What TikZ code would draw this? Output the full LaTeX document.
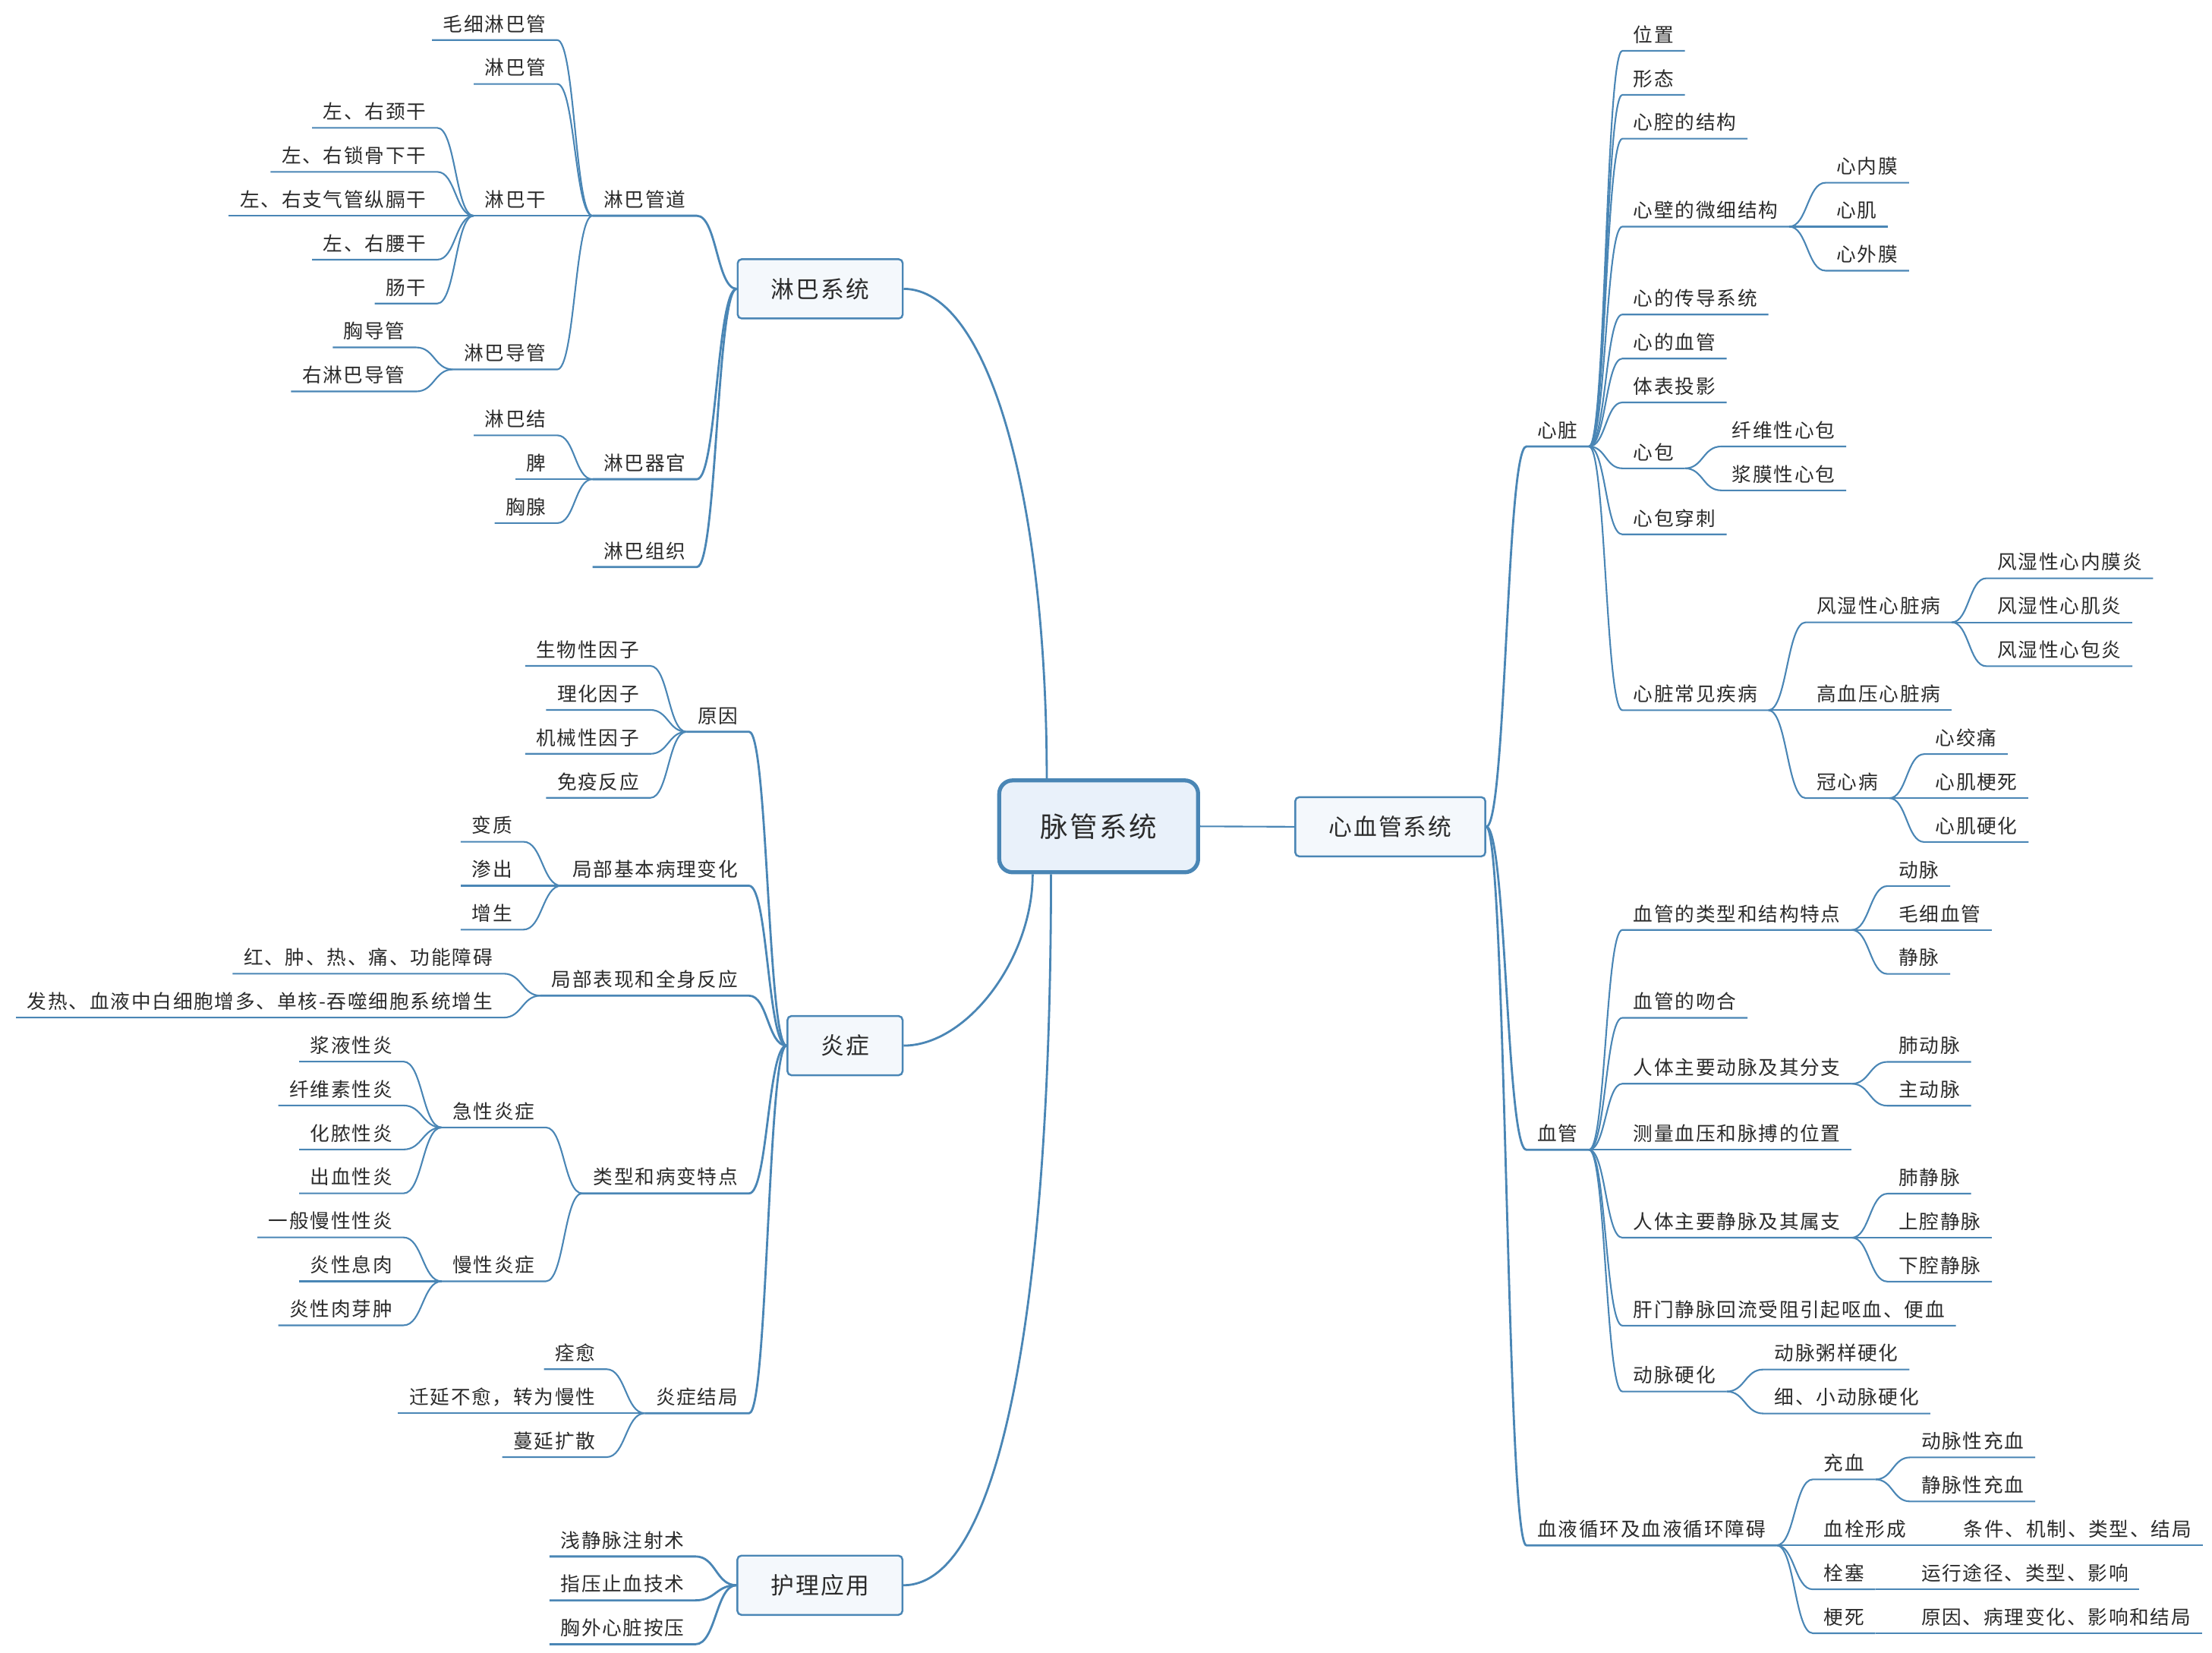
\documentclass[tikz,border=0pt]{standalone}
\usepackage{fontspec}
\setmainfont{Noto Sans CJK SC}[LetterSpace=7]
\usetikzlibrary{calc}

\definecolor{lineblue}{HTML}{4A86B5}
\definecolor{rootfill}{HTML}{E9F1FA}
\definecolor{boxfill}{HTML}{F4F8FC}
\definecolor{txt}{HTML}{2B2B2B}

\begin{document}
\begin{tikzpicture}[
			x=0.18584mm, y=-0.18584mm,
			central/.style={
				rectangle, rounded corners=5pt,
				draw=lineblue, line width=1.5pt, fill=rootfill, text=txt,
				font=\fontsize{10.4}{12}\selectfont,
				minimum width=2.62cm, minimum height=1.21cm
			},
			topic/.style={
				rectangle, rounded corners=1.5pt,
				draw=lineblue, line width=0.7pt, fill=boxfill, text=txt,
				font=\fontsize{8.75}{10}\selectfont,
				inner xsep=0.44cm, minimum height=0.78cm
			},
			leaf/.style={
				font=\fontsize{7.3}{8.5}\selectfont, text=txt,
				inner xsep=0.14cm, inner ysep=0.6mm,
				text height=1.9mm, text depth=0.5mm
			},
			rleaf/.style={leaf, anchor=south west},
			lleaf/.style={leaf, anchor=south east},
			link/.style={draw=lineblue, line width=0.6pt},
			trunk/.style={draw=lineblue, line width=0.8pt},
			xcurve/.style={to path={
				.. controls ($(\tikztostart)!0.5!(\tikztotarget|-\tikztostart)$)
				and ($(\tikztotarget)!0.5!(\tikztostart|-\tikztotarget)$) .. (\tikztotarget)}}
			]
			\useasboundingbox (0,0) rectangle (1568,1171);
			
			%% ── Centre ──────────────────────────────────────────────────────────
			\node[central] (mg) at (778.8, 585.6) {脉管系统};
			\coordinate (rtop) at (742, 552);
			\coordinate (rbot1) at (732, 619.5);
			\coordinate (rbot2) at (745, 619.5);
			
			\node[topic] (xxg) at (985.5, 585.9) {心血管系统};
			\node[topic] (lbxt) at (581.4, 204.7) {淋巴系统};
			\node[topic] (yz) at (599, 741.0) {炎症};
			\node[topic] (hlyy) at (581.2, 1123.4) {护理应用};
			
			\draw[link] (mg.east) -- (xxg.west);
			\draw[trunk] (lbxt.east) .. controls +(60,0) and +(0,-200) .. (rtop);
			\draw[trunk] (yz.east) .. controls +(45,0) and +(0,60) .. (rbot1);
			\draw[trunk] (hlyy.east) .. controls +(70,0) and +(0,300) .. (rbot2);
			
			%% ── 心血管系统 ──────────────────────────────────────────────────────
			\node[rleaf] (xz) at (1082, 316.4) {心脏};
			\node[rleaf] (xg) at (1082, 814.8) {血管};
			\node[rleaf] (xhxh) at (1082, 1095.1) {血液循环及血液循环障碍};
			\draw[trunk] (xxg.east) to[xcurve] (xz.south west) -- (xz.south east);
			\draw[trunk] (xxg.east) to[xcurve] (xg.south west) -- (xg.south east);
			\draw[trunk] (xxg.east) to[xcurve] (xhxh.south west) -- (xhxh.south east);
			
			%% ── 心脏 ────────────────────────────────────────────────────────────
			\node[rleaf] (wz) at (1150, 36.0) {位置};
			\node[rleaf] (xt) at (1150, 67.2) {形态};
			\node[rleaf] (xqjg) at (1150, 98.3) {心腔的结构};
			\node[rleaf] (xbwx) at (1150, 160.6) {心壁的微细结构};
			\node[rleaf] (cdxt) at (1150, 222.9) {心的传导系统};
			\node[rleaf] (xdxg) at (1150, 254.1) {心的血管};
			\node[rleaf] (btty) at (1150, 285.2) {体表投影};
			\node[rleaf] (xb) at (1150, 331.9) {心包};
			\node[rleaf] (xbcc) at (1150, 378.7) {心包穿刺};
			\node[rleaf] (cjjb) at (1150, 503.3) {心脏常见疾病};
			\draw[link] (xz.south east) to[xcurve] (wz.south west) -- (wz.south east);
			\draw[link] (xz.south east) to[xcurve] (xt.south west) -- (xt.south east);
			\draw[link] (xz.south east) to[xcurve] (xqjg.south west) -- (xqjg.south east);
			\draw[link] (xz.south east) to[xcurve] (xbwx.south west) -- (xbwx.south east);
			\draw[link] (xz.south east) to[xcurve] (cdxt.south west) -- (cdxt.south east);
			\draw[link] (xz.south east) to[xcurve] (xdxg.south west) -- (xdxg.south east);
			\draw[link] (xz.south east) to[xcurve] (btty.south west) -- (btty.south east);
			\draw[link] (xz.south east) to[xcurve] (xb.south west) -- (xb.south east);
			\draw[link] (xz.south east) to[xcurve] (xbcc.south west) -- (xbcc.south east);
			\draw[link] (xz.south east) to[xcurve] (cjjb.south west) -- (cjjb.south east);
			
			\node[rleaf] (xnm) at (1294, 129.5) {心内膜};
			\node[rleaf] (xj) at (1294, 160.6) {心肌};
			\node[rleaf] (xwm) at (1294, 191.8) {心外膜};
			\draw[link] (xbwx.south east) to[xcurve] (xnm.south west) -- (xnm.south east);
			\draw[link] (xbwx.south east) to[xcurve] (xj.south west) -- (xj.south east);
			\draw[link] (xbwx.south east) to[xcurve] (xwm.south west) -- (xwm.south east);
			
			\node[rleaf] (xwxb) at (1220, 316.4) {纤维性心包};
			\node[rleaf] (jmxb) at (1220, 347.5) {浆膜性心包};
			\draw[link] (xb.south east) to[xcurve] (xwxb.south west) -- (xwxb.south east);
			\draw[link] (xb.south east) to[xcurve] (jmxb.south west) -- (jmxb.south east);
			
			\node[rleaf] (fsxzb) at (1280, 441.0) {风湿性心脏病};
			\node[rleaf] (gxy) at (1280, 503.3) {高血压心脏病};
			\node[rleaf] (gxb) at (1280, 565.6) {冠心病};
			\draw[link] (cjjb.south east) to[xcurve] (fsxzb.south west) -- (fsxzb.south east);
			\draw[link] (cjjb.south east) to[xcurve] (gxy.south west) -- (gxy.south east);
			\draw[link] (cjjb.south east) to[xcurve] (gxb.south west) -- (gxb.south east);
			
			\node[rleaf] (fsnm) at (1408, 409.8) {风湿性心内膜炎};
			\node[rleaf] (fsxj) at (1408, 441.0) {风湿性心肌炎};
			\node[rleaf] (fsxb) at (1408, 472.1) {风湿性心包炎};
			\draw[link] (fsxzb.south east) to[xcurve] (fsnm.south west) -- (fsnm.south east);
			\draw[link] (fsxzb.south east) to[xcurve] (fsxj.south west) -- (fsxj.south east);
			\draw[link] (fsxzb.south east) to[xcurve] (fsxb.south west) -- (fsxb.south east);
			
			\node[rleaf] (xjt) at (1364, 534.4) {心绞痛};
			\node[rleaf] (xjgs) at (1364, 565.6) {心肌梗死};
			\node[rleaf] (xjyh) at (1364, 596.7) {心肌硬化};
			\draw[link] (gxb.south east) to[xcurve] (xjt.south west) -- (xjt.south east);
			\draw[link] (gxb.south east) to[xcurve] (xjgs.south west) -- (xjgs.south east);
			\draw[link] (gxb.south east) to[xcurve] (xjyh.south west) -- (xjyh.south east);
			
			%% ── 血管 ────────────────────────────────────────────────────────────
			\node[rleaf] (lxtd) at (1150, 659.0) {血管的类型和结构特点};
			\node[rleaf] (wh) at (1150, 721.3) {血管的吻合};
			\node[rleaf] (dmfz) at (1150, 768.0) {人体主要动脉及其分支};
			\node[rleaf] (clxy) at (1150, 814.8) {测量血压和脉搏的位置};
			\node[rleaf] (jmss) at (1150, 877.1) {人体主要静脉及其属支};
			\node[rleaf] (gmjm) at (1150, 939.4) {肝门静脉回流受阻引起呕血、便血};
			\node[rleaf] (dmyh) at (1150, 986.1) {动脉硬化};
			\draw[link] (xg.south east) to[xcurve] (lxtd.south west) -- (lxtd.south east);
			\draw[link] (xg.south east) to[xcurve] (wh.south west) -- (wh.south east);
			\draw[link] (xg.south east) to[xcurve] (dmfz.south west) -- (dmfz.south east);
			\draw[link] (xg.south east) to[xcurve] (clxy.south west) -- (clxy.south east);
			\draw[link] (xg.south east) to[xcurve] (jmss.south west) -- (jmss.south east);
			\draw[link] (xg.south east) to[xcurve] (gmjm.south west) -- (gmjm.south east);
			\draw[link] (xg.south east) to[xcurve] (dmyh.south west) -- (dmyh.south east);
			
			\node[rleaf] (dm) at (1338, 627.9) {动脉};
			\node[rleaf] (mxxg) at (1338, 659.0) {毛细血管};
			\node[rleaf] (jm) at (1338, 690.2) {静脉};
			\draw[link] (lxtd.south east) to[xcurve] (dm.south west) -- (dm.south east);
			\draw[link] (lxtd.south east) to[xcurve] (mxxg.south west) -- (mxxg.south east);
			\draw[link] (lxtd.south east) to[xcurve] (jm.south west) -- (jm.south east);
			
			\node[rleaf] (fdm) at (1338, 752.5) {肺动脉};
			\node[rleaf] (zdm) at (1338, 783.6) {主动脉};
			\draw[link] (dmfz.south east) to[xcurve] (fdm.south west) -- (fdm.south east);
			\draw[link] (dmfz.south east) to[xcurve] (zdm.south west) -- (zdm.south east);
			
			\node[rleaf] (fjm) at (1338, 845.9) {肺静脉};
			\node[rleaf] (sqjm) at (1338, 877.1) {上腔静脉};
			\node[rleaf] (xqjm) at (1338, 908.2) {下腔静脉};
			\draw[link] (jmss.south east) to[xcurve] (fjm.south west) -- (fjm.south east);
			\draw[link] (jmss.south east) to[xcurve] (sqjm.south west) -- (sqjm.south east);
			\draw[link] (jmss.south east) to[xcurve] (xqjm.south west) -- (xqjm.south east);
			
			\node[rleaf] (zyyh) at (1250, 970.5) {动脉粥样硬化};
			\node[rleaf] (xxyh) at (1250, 1001.7) {细、小动脉硬化};
			\draw[link] (dmyh.south east) to[xcurve] (zyyh.south west) -- (zyyh.south east);
			\draw[link] (dmyh.south east) to[xcurve] (xxyh.south west) -- (xxyh.south east);
			
			%% ── 血液循环及血液循环障碍 ──────────────────────────────────────────
			\node[rleaf] (cx) at (1285, 1048.4) {充血};
			\node[rleaf] (xs) at (1285, 1095.1) {血栓形成};
			\node[rleaf] (ss) at (1285, 1126.3) {栓塞};
			\node[rleaf] (gs) at (1285, 1157.4) {梗死};
			\draw[link] (xhxh.south east) to[xcurve] (cx.south west) -- (cx.south east);
			\draw[link] (xhxh.south east) to[xcurve] (xs.south west) -- (xs.south east);
			\draw[link] (xhxh.south east) to[xcurve] (ss.south west) -- (ss.south east);
			\draw[link] (xhxh.south east) to[xcurve] (gs.south west) -- (gs.south east);
			
			\node[rleaf] (dcx) at (1354, 1032.8) {动脉性充血};
			\node[rleaf] (jcx) at (1354, 1064.0) {静脉性充血};
			\draw[link] (cx.south east) to[xcurve] (dcx.south west) -- (dcx.south east);
			\draw[link] (cx.south east) to[xcurve] (jcx.south west) -- (jcx.south east);
			
			\node[rleaf] (xsjj) at (1384, 1095.1) {条件、机制、类型、结局};
			\node[rleaf] (ssyx) at (1354, 1126.3) {运行途径、类型、影响};
			\node[rleaf] (gsjj) at (1354, 1157.4) {原因、病理变化、影响和结局};
			\draw[link] (xs.south east) -- (xsjj.south west) -- (xsjj.south east);
			\draw[link] (ss.south east) -- (ssyx.south west) -- (ssyx.south east);
			\draw[link] (gs.south east) -- (gsjj.south west) -- (gsjj.south east);
			
			%% ── 淋巴系统 ────────────────────────────────────────────────────────
			\node[lleaf] (lbgd) at (494, 152.9) {淋巴管道};
			\node[lleaf] (lbqg) at (494, 339.6) {淋巴器官};
			\node[lleaf] (lbzz) at (494, 401.8) {淋巴组织};
			\draw[trunk] (lbxt.west) to[xcurve] (lbgd.south east) -- (lbgd.south west);
			\draw[trunk] (lbxt.west) to[xcurve] (lbqg.south east) -- (lbqg.south west);
			\draw[trunk] (lbxt.west) to[xcurve] (lbzz.south east) -- (lbzz.south west);
			
			\node[lleaf] (mxlbg) at (395, 28.4) {毛细淋巴管};
			\node[lleaf] (lbg) at (395, 59.5) {淋巴管};
			\node[lleaf] (lbgan) at (395, 152.9) {淋巴干};
			\node[lleaf] (lbdg) at (395, 261.8) {淋巴导管};
			\draw[link] (lbgd.south west) to[xcurve] (mxlbg.south east) -- (mxlbg.south west);
			\draw[link] (lbgd.south west) to[xcurve] (lbg.south east) -- (lbg.south west);
			\draw[link] (lbgd.south west) to[xcurve] (lbgan.south east) -- (lbgan.south west);
			\draw[link] (lbgd.south west) to[xcurve] (lbdg.south east) -- (lbdg.south west);
			
			\node[lleaf] (jg) at (310, 90.6) {左、右颈干};
			\node[lleaf] (sgx) at (310, 121.8) {左、右锁骨下干};
			\node[lleaf] (zqg) at (310, 152.9) {左、右支气管纵膈干};
			\node[lleaf] (yg) at (310, 184.0) {左、右腰干};
			\node[lleaf] (cg) at (310, 215.1) {肠干};
			\draw[link] (lbgan.south west) to[xcurve] (jg.south east) -- (jg.south west);
			\draw[link] (lbgan.south west) to[xcurve] (sgx.south east) -- (sgx.south west);
			\draw[link] (lbgan.south west) to[xcurve] (zqg.south east) -- (zqg.south west);
			\draw[link] (lbgan.south west) to[xcurve] (yg.south east) -- (yg.south west);
			\draw[link] (lbgan.south west) to[xcurve] (cg.south east) -- (cg.south west);
			
			\node[lleaf] (xdg) at (295, 246.2) {胸导管};
			\node[lleaf] (ylbdg) at (295, 277.4) {右淋巴导管};
			\draw[link] (lbdg.south west) to[xcurve] (xdg.south east) -- (xdg.south west);
			\draw[link] (lbdg.south west) to[xcurve] (ylbdg.south east) -- (ylbdg.south west);
			
			\node[lleaf] (lbj) at (395, 308.5) {淋巴结};
			\node[lleaf] (pi) at (395, 339.6) {脾};
			\node[lleaf] (xx) at (395, 370.7) {胸腺};
			\draw[link] (lbqg.south west) to[xcurve] (lbj.south east) -- (lbj.south west);
			\draw[link] (lbqg.south west) to[xcurve] (pi.south east) -- (pi.south west);
			\draw[link] (lbqg.south west) to[xcurve] (xx.south east) -- (xx.south west);
			
			%% ── 炎症 ────────────────────────────────────────────────────────────
			\node[lleaf] (yy) at (531, 518.6) {原因};
			\node[lleaf] (bljb) at (531, 627.7) {局部基本病理变化};
			\node[lleaf] (bxqs) at (531, 705.6) {局部表现和全身反应};
			\node[lleaf] (yzlx) at (531, 845.7) {类型和病变特点};
			\node[lleaf] (yzjj) at (531, 1001.5) {炎症结局};
			\draw[trunk] (yz.west) to[xcurve] (yy.south east) -- (yy.south west);
			\draw[trunk] (yz.west) to[xcurve] (bljb.south east) -- (bljb.south west);
			\draw[trunk] (yz.west) to[xcurve] (bxqs.south east) -- (bxqs.south west);
			\draw[trunk] (yz.west) to[xcurve] (yzlx.south east) -- (yzlx.south west);
			\draw[trunk] (yz.west) to[xcurve] (yzjj.south east) -- (yzjj.south west);
			
			\node[lleaf] (swyz) at (461, 471.9) {生物性因子};
			\node[lleaf] (lhyz) at (461, 503.1) {理化因子};
			\node[lleaf] (jxyz) at (461, 534.2) {机械性因子};
			\node[lleaf] (myfy) at (461, 565.4) {免疫反应};
			\draw[link] (yy.south west) to[xcurve] (swyz.south east) -- (swyz.south west);
			\draw[link] (yy.south west) to[xcurve] (lhyz.south east) -- (lhyz.south west);
			\draw[link] (yy.south west) to[xcurve] (jxyz.south east) -- (jxyz.south west);
			\draw[link] (yy.south west) to[xcurve] (myfy.south east) -- (myfy.south west);
			
			\node[lleaf] (bz) at (371, 596.5) {变质};
			\node[lleaf] (sc) at (371, 627.7) {渗出};
			\node[lleaf] (zs) at (371, 658.8) {增生};
			\draw[link] (bljb.south west) to[xcurve] (bz.south east) -- (bz.south west);
			\draw[link] (bljb.south west) to[xcurve] (sc.south east) -- (sc.south west);
			\draw[link] (bljb.south west) to[xcurve] (zs.south east) -- (zs.south west);
			
			\node[lleaf] (hzrt) at (357, 690.0) {红、肿、热、痛、功能障碍};
			\node[lleaf] (frxy) at (357, 721.1) {发热、血液中白细胞增多、单核-吞噬细胞系统增生};
			\draw[link] (bxqs.south west) to[xcurve] (hzrt.south east) -- (hzrt.south west);
			\draw[link] (bxqs.south west) to[xcurve] (frxy.south east) -- (frxy.south west);
			
			\node[lleaf] (jxyzh) at (387, 799.0) {急性炎症};
			\node[lleaf] (mxyz) at (387, 908.0) {慢性炎症};
			\draw[link] (yzlx.south west) to[xcurve] (jxyzh.south east) -- (jxyzh.south west);
			\draw[link] (yzlx.south west) to[xcurve] (mxyz.south east) -- (mxyz.south west);
			
			\node[lleaf] (jyx) at (286, 752.3) {浆液性炎};
			\node[lleaf] (xwsy) at (286, 783.4) {纤维素性炎};
			\node[lleaf] (hny) at (286, 814.6) {化脓性炎};
			\node[lleaf] (cxy) at (286, 845.7) {出血性炎};
			\draw[link] (jxyzh.south west) to[xcurve] (jyx.south east) -- (jyx.south west);
			\draw[link] (jxyzh.south west) to[xcurve] (xwsy.south east) -- (xwsy.south west);
			\draw[link] (jxyzh.south west) to[xcurve] (hny.south east) -- (hny.south west);
			\draw[link] (jxyzh.south west) to[xcurve] (cxy.south east) -- (cxy.south west);
			
			\node[lleaf] (ybmx) at (286, 876.9) {一般慢性性炎};
			\node[lleaf] (xxr) at (286, 908.0) {炎性息肉};
			\node[lleaf] (rysz) at (286, 939.2) {炎性肉芽肿};
			\draw[link] (mxyz.south west) to[xcurve] (ybmx.south east) -- (ybmx.south west);
			\draw[link] (mxyz.south west) to[xcurve] (xxr.south east) -- (xxr.south west);
			\draw[link] (mxyz.south west) to[xcurve] (rysz.south east) -- (rysz.south west);
			
			\node[lleaf] (qy) at (430, 970.3) {痊愈};
			\node[lleaf] (qybj) at (430, 1001.5) {迁延不愈，转为慢性};
			\node[lleaf] (mykz) at (430, 1032.6) {蔓延扩散};
			\draw[link] (yzjj.south west) to[xcurve] (qy.south east) -- (qy.south west);
			\draw[link] (yzjj.south west) to[xcurve] (qybj.south east) -- (qybj.south west);
			\draw[link] (yzjj.south west) to[xcurve] (mykz.south east) -- (mykz.south west);
			
			%% ── 护理应用 ────────────────────────────────────────────────────────
			\node[lleaf] (qjm) at (493, 1103.0) {浅静脉注射术};
			\node[lleaf] (zyzx) at (493, 1134.1) {指压止血技术};
			\node[lleaf] (xwax) at (493, 1165.2) {胸外心脏按压};
			\draw[trunk] (hlyy.west) to[xcurve] (qjm.south east) -- (qjm.south west);
			\draw[trunk] (hlyy.west) to[xcurve] (zyzx.south east) -- (zyzx.south west);
			\draw[trunk] (hlyy.west) to[xcurve] (xwax.south east) -- (xwax.south west);
			
		\end{tikzpicture}
\end{document}
